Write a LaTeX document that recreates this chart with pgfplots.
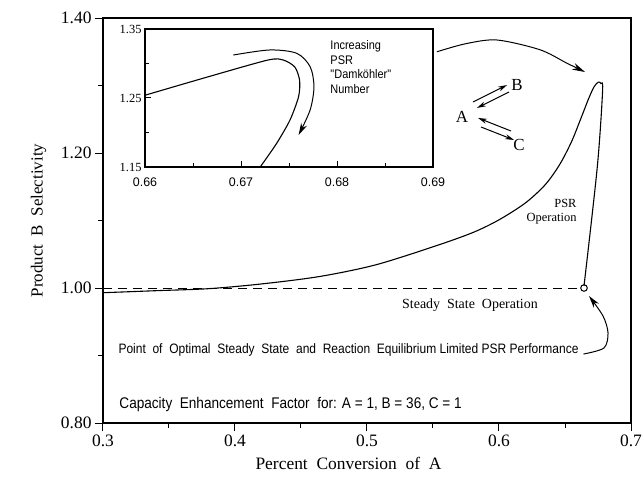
\documentclass[border=0pt]{standalone}
\usepackage{fontspec}
\setmainfont{Liberation Serif}
\newfontfamily\narrowsans[FakeStretch=0.88]{Liberation Sans}
\newfontfamily\plainsans{Liberation Sans}
\usepackage{pgfplots}
\pgfplotsset{compat=1.18}
\usetikzlibrary{arrows.meta}

\begin{document}
\begin{tikzpicture}
\useasboundingbox (-103bp,-57bp) rectangle (541bp,423bp);
\begin{axis}[
  at={(0bp,0bp)}, anchor=south west,
  width=528bp, height=405bp, scale only axis,
  xmin=0.3, xmax=0.7, ymin=0.8, ymax=1.4,
  xtick={0.3,0.4,0.5,0.6,0.7}, ytick={0.8,1.0,1.2,1.4},
  minor xtick={0.35,0.45,0.55,0.65}, minor ytick={0.9,1.1,1.3},
  xticklabels={0.3,0.4,0.5,0.6,0.7}, yticklabels={0.80,1.00,1.20,1.40},
  tick align=outside, tick pos=left,
  major tick length=8bp, minor tick length=5bp,
  axis line style={line width=1.8bp},
  every tick/.style={line width=1bp, black},
  /pgf/number format/assume math mode=true,
  ticklabel style={font=\fontsize{17.5}{20}\selectfont},
  xlabel={Percent\ \ Conversion\ \ of\ \ A},
  ylabel={Product\ \ B\ \ Selectivity},
  xlabel style={at={(axis description cs:0.465,-0.1)}, anchor=center, font=\fontsize{17.5}{20}\selectfont},
  ylabel style={at={(axis description cs:-0.122,0.5)}, anchor=center, rotate=0, font=\fontsize{17}{20}\selectfont},
  clip=false,
]
% PSR operation curve
\addplot[black, line width=1.1bp, smooth, tension=0.5] coordinates {
(0.300,0.993) (0.340,0.996) (0.380,0.999) (0.420,1.006) (0.464,1.017)
(0.506,1.034) (0.550,1.061) (0.580,1.082) (0.600,1.101) (0.620,1.126)
(0.635,1.153) (0.646,1.183) (0.655,1.217) (0.662,1.251) (0.668,1.281)
(0.672,1.298) (0.6752,1.305) (0.6772,1.303) (0.6785,1.293) (0.6745,1.180) (0.6644,1.003)
};
% steady state dashed line
\addplot[black, line width=1bp, dash pattern=on 9bp off 6bp] coordinates {(0.3,1.0) (0.6615,1.0)};
\addplot[only marks, mark=o, mark size=3.3bp, mark options={fill=white, line width=1bp, black}] coordinates {(0.6644,1.0)};
% top arrow
\addplot[black, line width=1bp, smooth, -{Stealth[length=13bp,width=7bp]}] coordinates {
(0.553,1.350) (0.575,1.362) (0.5985,1.3674) (0.631,1.353) (0.6515,1.333) (0.6652,1.320)};
% arrow to optimal point
\addplot[black, line width=1bp, smooth, -{Stealth[length=12bp,width=6.5bp]}] coordinates {
(0.6640,0.9022) (0.6795,0.9111) (0.6826,0.9333) (0.6788,0.9585) (0.6682,0.9881)};
% reaction arrows
\addplot[black, line width=1bp, -{Stealth[length=9bp,width=5bp]}] coordinates {(0.5803,1.2756) (0.6061,1.3007)};
\addplot[black, line width=1bp, -{Stealth[length=9bp,width=5bp]}] coordinates {(0.6076,1.2904) (0.5833,1.2667)};
\addplot[black, line width=1bp, -{Stealth[length=9bp,width=5bp]}] coordinates {(0.5864,1.2385) (0.6114,1.2193)};
\addplot[black, line width=1bp, -{Stealth[length=9bp,width=5bp]}] coordinates {(0.6091,1.2326) (0.5841,1.2519)};
\node[font=\fontsize{17}{20}\selectfont] at (axis cs:0.572,1.2533) {A};
\node[font=\fontsize{17}{20}\selectfont] at (axis cs:0.6136,1.3007) {B};
\node[font=\fontsize{17}{20}\selectfont] at (axis cs:0.6152,1.2119) {C};
\node[font=\fontsize{12.5}{14}\selectfont, align=right, anchor=east] at (axis cs:0.6614,1.1126) {PSR\\Operation};
\node[font=\fontsize{14}{16}\selectfont] at (axis cs:0.578,0.9748) {Steady\ \ State\ \ Operation};
\node[font=\narrowsans\fontsize{13.7}{16}\selectfont, anchor=west] at (axis cs:0.3091,0.9081) {Point\ \ of\ \ Optimal\ \ Steady\ \ State\ \ and\ \ Reaction\ \ Equilibrium Limited PSR Performance};
\node[font=\narrowsans\fontsize{15.5}{18}\selectfont, anchor=west] at (axis cs:0.3098,0.8267) {Capacity\ \ Enhancement\ \ Factor\ \ for: A = 1, B = 36, C = 1};
\end{axis}

\begin{axis}[
  at={(42bp,256bp)}, anchor=south west,
  width=288bp, height=138bp, scale only axis,
  xmin=0.66, xmax=0.69, ymin=1.15, ymax=1.35,
  xtick={0.66,0.67,0.68,0.69}, ytick={1.15,1.25,1.35},
  xticklabels={0.66,0.67,0.68,0.69}, yticklabels={1.15,1.25,1.35},
  minor xtick={0.665,0.675,0.685}, minor ytick={1.20,1.30},
  tick align=inside, tick pos=left,
  major tick length=6bp, minor tick length=4bp,
  axis line style={line width=1.5bp},
  every tick/.style={line width=1bp, black},
  axis background/.style={fill=white},
  /pgf/number format/assume math mode=true,
  xticklabel style={font=\plainsans\fontsize{12.5}{14}\selectfont, yshift=-7bp},
  yticklabel style={font=\fontsize{12.5}{14}\selectfont},
  clip=false,
]
\addplot[black, line width=1.1bp, smooth, tension=0.45] coordinates {
(0.6600,1.254) (0.6664,1.280) (0.6728,1.305) (0.6744,1.305) (0.6756,1.295)
(0.6761,1.276) (0.6760,1.252) (0.6751,1.218) (0.6737,1.184) (0.6720,1.150)};
\addplot[black, line width=1bp, smooth, tension=0.5, -{Stealth[length=12bp,width=6.5bp]}] coordinates {
(0.6692,1.3123) (0.6730,1.3196) (0.6758,1.3148) (0.6772,1.2954) (0.6776,1.2664) (0.6772,1.2326) (0.6760,1.1964)};
\node[font=\narrowsans\fontsize{12.5}{14.5}\selectfont, align=left, anchor=north west, inner sep=0pt] at (axis cs:0.6793,1.333) {Increasing\\PSR\\"Damk\"ohler"\\Number};
\end{axis}
\end{tikzpicture}
\end{document}
